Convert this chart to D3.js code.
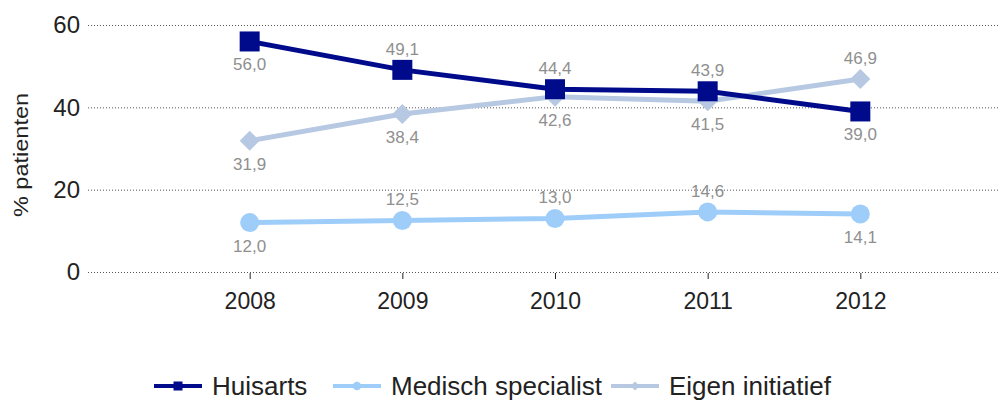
<!DOCTYPE html>
<html>
<head>
<meta charset="utf-8">
<script src="https://d3js.org/d3.v7.min.js"></script>
<style>
  body { margin: 0; background: #fff; }
  svg { font-family: Arial, "Liberation Sans", sans-serif; }
</style>
</head>
<body>
<div id="chart"></div>
<script>
// data
var years = [2008, 2009, 2010, 2011, 2012];
var huisarts = [56.0, 49.1, 44.4, 43.9, 39.0];
var medisch = [12.0, 12.5, 13.0, 14.6, 14.1];
var eigen = [31.9, 38.4, 42.6, 41.5, 46.9];
// label above (1) or below (-1) the point
var huisartsPos = [-1, 1, 1, 1, -1];
var medischPos = [-1, 1, 1, 1, -1];
var eigenPos = [-1, -1, -1, -1, 1];
var yTicks = [0, 20, 40, 60];

var width = 1005, height = 401;

var svg = d3.select("#chart").append("svg")
  .attr("width", width)
  .attr("height", height);

var x = d3.scaleLinear().domain([2007, 2013]).range([97, 1013]);
var y = d3.scaleLinear().domain([0, 60]).range([272, 25]);

// grid
svg.append("g").selectAll("line")
  .data(yTicks)
  .enter().append("line")
    .attr("x1", 88).attr("x2", 1000)
    .attr("y1", function(d) { return y(d) + 0.5; })
    .attr("y2", function(d) { return y(d) + 0.5; })
    .attr("stroke", "#555")
    .attr("stroke-width", 1)
    .attr("stroke-dasharray", "1,2");

// y axis labels
svg.append("g").selectAll("text")
  .data(yTicks)
  .enter().append("text")
    .attr("x", 80)
    .attr("y", function(d) { return y(d); })
    .attr("dy", "0.35em")
    .attr("text-anchor", "end")
    .attr("font-size", 24)
    .attr("fill", "#222")
    .text(function(d) { return d; });

svg.append("text")
  .attr("transform", "translate(28,155) rotate(-90) scale(1.12,1)")
  .attr("text-anchor", "middle")
  .attr("font-size", 21)
  .attr("fill", "#222")
  .text("% patienten");

// x axis
var xAxis = svg.append("g")
  .attr("transform", "translate(0,273)")
  .call(d3.axisBottom(x).tickValues(years).tickFormat(d3.format("d")).tickSize(6).tickPadding(14));
xAxis.select(".domain").remove();
xAxis.selectAll("line").attr("stroke", "#222");
xAxis.selectAll("text")
  .attr("font-size", 23)
  .attr("fill", "#222")
  .attr("font-family", "Arial, 'Liberation Sans', sans-serif");

var series = [
  { name: "Huisarts", values: huisarts, pos: huisartsPos, color: "#000b8c", shape: "square" },
  { name: "Medisch specialist", values: medisch, pos: medischPos, color: "#9fcdf9", shape: "circle" },
  { name: "Eigen initiatief", values: eigen, pos: eigenPos, color: "#b6c8e2", shape: "diamond" }
];

var line = d3.line()
  .x(function(d, i) { return x(years[i]); })
  .y(function(d) { return y(d); });

var fmt = function(v) { return d3.format(".1f")(v).replace(".", ","); };

function marker(g, shape, color, cx, cy, s) {
  if (shape === "square") {
    g.append("rect")
      .attr("x", cx - 10 * s).attr("y", cy - 10 * s)
      .attr("width", 20 * s).attr("height", 20 * s)
      .attr("fill", color);
  } else if (shape === "circle") {
    g.append("circle").attr("cx", cx).attr("cy", cy).attr("r", 9.5 * s).attr("fill", color);
  } else {
    var r = 10 * s;
    g.append("path")
      .attr("d", "M" + cx + "," + (cy - r) + "L" + (cx + r) + "," + cy + "L" + cx + "," + (cy + r) + "L" + (cx - r) + "," + cy + "Z")
      .attr("fill", color);
  }
}

// draw in reverse so Huisarts is on top
series.slice().reverse().forEach(function(s) {
  var g = svg.append("g");
  g.append("path")
    .datum(s.values)
    .attr("d", line)
    .attr("fill", "none")
    .attr("stroke", s.color)
    .attr("stroke-width", 5);
  s.values.forEach(function(v, i) {
    marker(g, s.shape, s.color, x(years[i]), y(v), 1);
  });
});

// value labels
series.forEach(function(s) {
  svg.append("g").selectAll("text")
    .data(s.values)
    .enter().append("text")
      .attr("x", function(d, i) { return x(years[i]); })
      .attr("y", function(d, i) { return y(d) + (s.pos[i] > 0 ? -21 : 23); })
      .attr("dy", "0.35em")
      .attr("text-anchor", "middle")
      .attr("font-size", 17)
      .attr("fill", "#8f8f8f")
      .text(fmt);
});

// legend
var legendX = [154, 333, 611];
var legend = svg.append("g");
series.forEach(function(s, i) {
  var lx = legendX[i], ly = 386;
  legend.append("line")
    .attr("x1", lx).attr("x2", lx + 48)
    .attr("y1", ly).attr("y2", ly)
    .attr("stroke", s.color).attr("stroke-width", 4);
  marker(legend, s.shape, s.color, lx + 24, ly, 0.45);
  legend.append("text")
    .attr("x", lx + 58).attr("y", ly)
    .attr("dy", "0.35em")
    .attr("font-size", 26)
    .attr("fill", "#222")
    .text(s.name);
});
</script>
</body>
</html>
